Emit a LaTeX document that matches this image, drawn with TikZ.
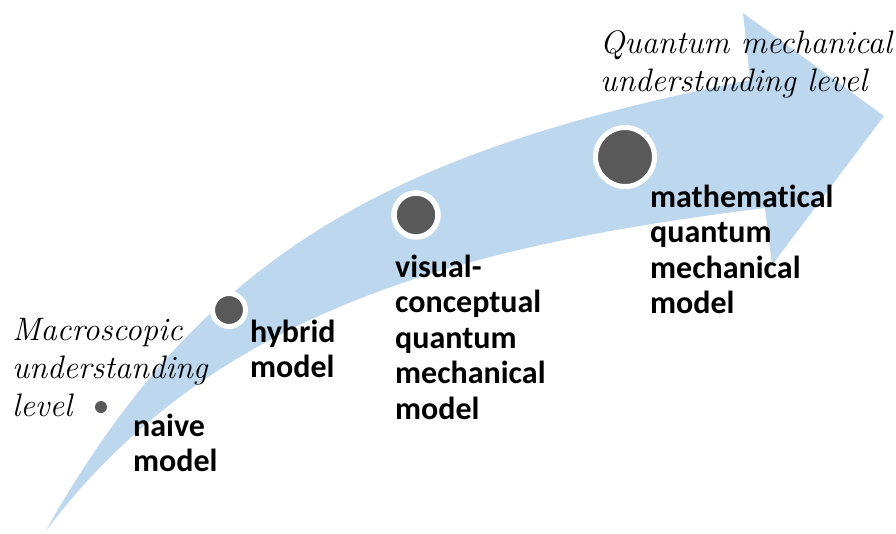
\documentclass[tikz,border=0pt]{standalone}
\usepackage{fontspec}
\newfontfamily\lblfont[Ligatures=NoCommon]{Carlito}
\definecolor{arrowblue}{HTML}{BDD7EE}
\definecolor{dotgray}{HTML}{595959}
\tikzset{
  dotnode/.style={circle,fill=dotgray,draw=white,inner sep=0pt},
  modellabel/.style={anchor=base west,inner sep=0pt,font=\lblfont\bfseries\fontsize{32}{35.5}\selectfont},
  levellabel/.style={anchor=base west,inner sep=0pt,font=\itshape\fontsize{32.5}{38}\selectfont}
}
\newcommand{\stacklines}[1]{\begin{tabular}[t]{@{}l@{}}#1\end{tabular}}
\begin{document}
\begin{tikzpicture}[x=1pt,y=-1pt]
\useasboundingbox (0,0) rectangle (896,533);
% curved arrow
\fill[arrowblue]
  (45,532) .. controls (202,254) and (387,152) .. (750,80)
  -- (743,13) -- (884,116) -- (772,265) -- (765,208)
  .. controls (468,245) and (213,308) .. (45,532)
  -- cycle;
% dots
\node[dotnode,minimum size=12pt,draw=none] (d0) at (101,407) {};
\node[dotnode,minimum size=33pt,line width=5pt] (d1) at (229,310) {};
\node[dotnode,minimum size=44pt,line width=5.5pt] (d2) at (416,215) {};
\node[dotnode,minimum size=59pt,line width=5pt] (d3) at (625,157) {};
% model labels
\node[modellabel] (l0) at (133,436) {\stacklines{naive\\model}};
\node[modellabel] (l1) at (250,342) {\stacklines{hybrid\\model}};
\node[modellabel] (l2) at (395,277) {\stacklines{visual-\\conceptual\\quantum\\mechanical\\model}};
\node[modellabel] (l3) at (650,207) {\stacklines{mathematical\\quantum\\mechanical\\model}};
% level labels
\node[levellabel] (q) at (600,53) {\stacklines{Quantum mechanical\\understanding level}};
\node[levellabel] (m) at (12,340) {\stacklines{Macroscopic\\understanding\\level}};
\end{tikzpicture}
\end{document}
